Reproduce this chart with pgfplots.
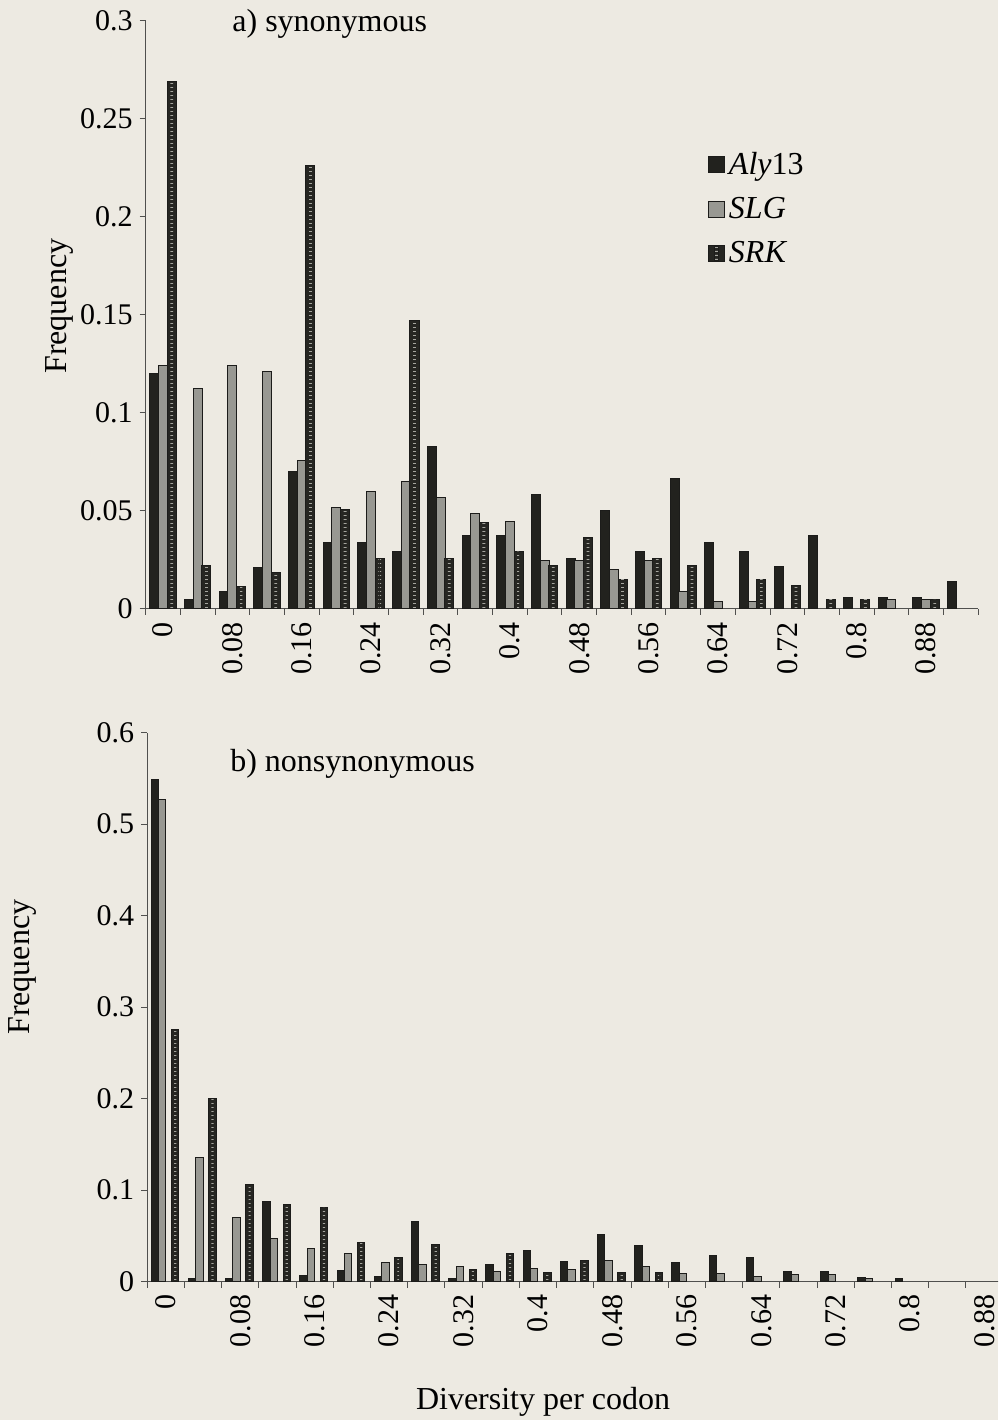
\documentclass[border=0pt]{standalone}
\usepackage{fontspec}
\setmainfont{Liberation Serif}
\usepackage{pgfplots}
\pgfplotsset{compat=1.18}
\usepackage{pgfplotstable}
\usetikzlibrary{patterns}
\definecolor{bg}{RGB}{237,234,226}
\definecolor{alyc}{RGB}{34,34,30}
\definecolor{slgc}{RGB}{152,152,146}
\definecolor{srkc}{RGB}{38,38,34}
\definecolor{edge}{RGB}{28,28,26}
\definecolor{axc}{RGB}{80,80,78}
\definecolor{dashc}{RGB}{165,165,158}

\pgfdeclarepatternformonly{srkdash}{\pgfpointorigin}{\pgfpoint{10pt}{2pt}}{\pgfpoint{10pt}{2pt}}{%
  \pgfpathrectangle{\pgfpointorigin}{\pgfpoint{10pt}{0.6pt}}\pgfusepath{fill}}

\pgfplotstableread{
x aly slg srk
0 0.120 0.124 0.269
1 0.005 0.1126 0.022
2 0.0087 0.124 0.0114
3 0.0213 0.121 0.0185
4 0.0702 0.076 0.2264
5 0.0338 0.052 0.0507
6 0.0338 0.0602 0.0259
7 0.0293 0.0648 0.1474
8 0.0828 0.0568 0.0259
9 0.0374 0.0488 0.0439
10 0.0374 0.0446 0.0293
11 0.0585 0.0247 0.0223
12 0.0257 0.0247 0.0364
13 0.050 0.0202 0.0153
14 0.0293 0.0247 0.0257
15 0.0667 0.0087 0.0223
16 0.0338 0.004 nan
17 0.0293 0.004 0.0153
18 0.0219 nan 0.0119
19 0.0374 nan 0.005
20 0.0058 nan 0.005
21 0.0058 0.005 nan
22 0.0058 0.0046 0.0046
23 0.0139 nan nan
}\syn

\pgfplotstableread{
x aly slg srk
0 0.549 0.5265 0.276
1 0.004 0.136 0.2005
2 0.004 0.070 0.1057
3 0.088 0.0467 0.0842
4 0.0066 0.036 0.0806
5 0.012 0.031 0.043
6 0.0055 0.0212 0.026
7 0.0663 0.0193 0.041
8 0.004 0.0164 0.0128
9 0.019 0.011 0.031
10 0.034 0.0146 0.0098
11 0.0226 0.0135 0.0237
12 0.0518 0.0237 0.0098
13 0.0394 0.0164 0.0098
14 0.0212 0.0092 nan
15 0.0284 0.0092 nan
16 0.0262 0.0062 nan
17 0.011 0.0081 nan
18 0.011 0.0081 nan
19 0.005 0.003 nan
20 0.004 nan nan
}\non

\pgfplotsset{
  myaxis/.style={
    scale only axis,
    axis lines=left,
    axis line style={-, draw=axc, line width=0.5pt},
    tick align=outside,
    major tick length=3pt, minor tick length=3pt,
    tick style={draw=axc, line width=0.5pt},
    xmin=-0.5, ymin=0,
    xtick={0,2,...,22},
    xticklabels={0,0.08,0.16,0.24,0.32,0.4,0.48,0.56,0.64,0.72,0.8,0.88},
    major x tick style={draw=none},
    xticklabel style={rotate=90, anchor=east, font=\fontsize{15}{15}\selectfont},
    yticklabel style={font=\fontsize{15}{15}\selectfont},
    ylabel={Frequency},
    clip=false,
  },
  sqleg/.style={legend image code/.code={\draw[##1] (0pt,-4pt) rectangle (8pt,4pt);}},
  srkleg/.style={legend image code/.code={\draw[##1] (0pt,-4pt) rectangle (8pt,4pt);
    \fill[pattern=srkdash, pattern color=dashc] (3pt,-3.4pt) rectangle (5pt,3.4pt);}},
}

\begin{document}
\begin{tikzpicture}
\useasboundingbox (0,0) rectangle (499pt,710pt);
\fill[bg] (0,0) rectangle (499pt,710pt);
\begin{scope}
\clip (0,0) rectangle (499pt,710pt);

% ---------- top panel ----------
\begin{axis}[myaxis,
  at={(72.85pt,405.5pt)}, anchor=south west,
  width=416.2pt, height=294pt,
  xmax=23.5, ymax=0.3,
  minor xtick={-0.5,0.5,...,23.5},
  ytick={0,0.05,0.1,0.15,0.2,0.25,0.3},
  yticklabels={0,0.05,0.1,0.15,0.2,0.25,0.3},
  ylabel style={at={(axis description cs:-0.1033,0.515)}, anchor=center, font=\fontsize{16}{16}\selectfont},
  legend style={draw=none, fill=none, at={(axis description cs:0.675,0.785)}, anchor=north west,
    font=\fontsize{16}{16}\selectfont, row sep=6pt, inner sep=0pt,
    /tikz/every even column/.append style={column sep=2.5pt}},
  legend cell align=left,
]
\addplot[ybar, bar width=0.26, bar shift=-0.25, fill=alyc, draw=edge, line width=0.5pt, sqleg] table[x=x,y=aly]{\syn};
\addlegendentry{\textit{Aly}13}
\addplot[ybar, bar width=0.26, bar shift=0, fill=slgc, draw=edge, line width=0.5pt, sqleg] table[x=x,y=slg]{\syn};
\addlegendentry{\textit{SLG}}
\addplot[ybar, bar width=0.26, bar shift=0.25, fill=srkc, draw=edge, line width=0.5pt, srkleg] table[x=x,y=srk]{\syn};
\addlegendentry{\textit{SRK}}
\addplot[ybar, bar width=0.08, bar shift=0.25, draw=none, pattern=srkdash, pattern color=dashc, forget plot] table[x=x,y=srk]{\syn};
\node[anchor=base west, inner sep=0pt, font=\fontsize{16}{16}\selectfont] at (axis description cs:0.1037,0.982) {a) synonymous};
\end{axis}

% ---------- bottom panel ----------
\begin{axis}[myaxis,
  at={(73.65pt,69.15pt)}, anchor=south west,
  width=427.9pt, height=274.5pt,
  xmax=22.5, ymax=0.6,
  minor xtick={-0.5,0.5,...,22.5},
  ytick={0,0.1,0.2,0.3,0.4,0.5,0.6},
  yticklabels={0,0.1,0.2,0.3,0.4,0.5,0.6},
  ylabel style={at={(axis description cs:-0.1463,0.573)}, anchor=center, font=\fontsize{16}{16}\selectfont},
  xlabel={Diversity per codon},
  xlabel style={at={(axis description cs:0.4625,-0.219)}, anchor=center, font=\fontsize{16}{16}\selectfont},
]
\addplot[ybar, bar width=0.2, bar shift=-0.3, fill=alyc, draw=edge, line width=0.5pt] table[x=x,y=aly]{\non};
\addplot[ybar, bar width=0.2, bar shift=-0.1, fill=slgc, draw=edge, line width=0.5pt] table[x=x,y=slg]{\non};
\addplot[ybar, bar width=0.2, bar shift=0.25, fill=srkc, draw=edge, line width=0.5pt] table[x=x,y=srk]{\non};
\addplot[ybar, bar width=0.06, bar shift=0.25, draw=none, pattern=srkdash, pattern color=dashc] table[x=x,y=srk]{\non};
\node[anchor=base west, inner sep=0pt, font=\fontsize{16}{16}\selectfont] at (axis description cs:0.0966,0.930) {b) nonsynonymous};
\end{axis}
\end{scope}
\end{tikzpicture}
\end{document}
